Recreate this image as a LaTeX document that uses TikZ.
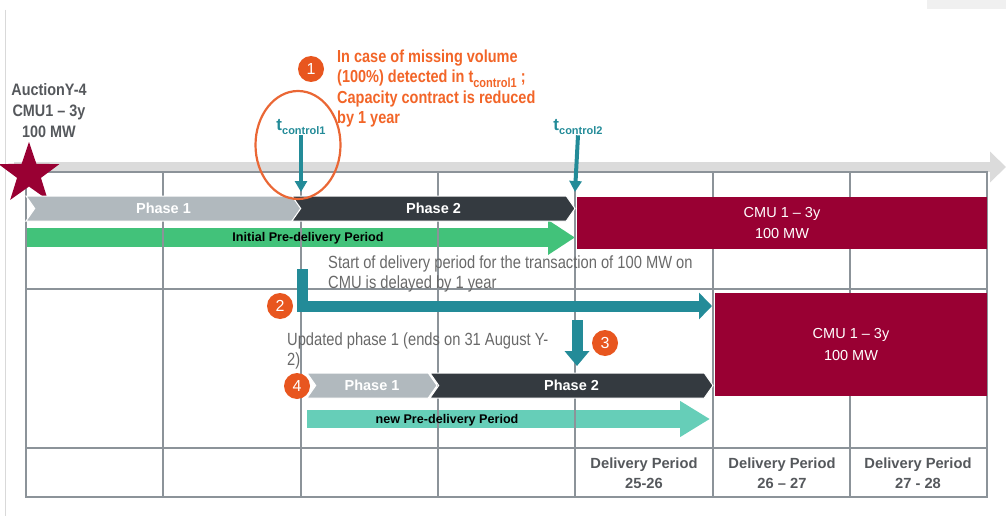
\documentclass[tikz,border=0pt]{standalone}
\usepackage{fontspec}
\setmainfont{Liberation Sans}
\usepackage{tikz}
\usetikzlibrary{positioning,calc}
\usetikzlibrary{arrows.meta,shapes}
\definecolor{maroon}{RGB}{153,0,51}
\definecolor{phdark}{RGB}{52,58,64}
\definecolor{phlight}{RGB}{177,185,190}
\definecolor{initgreen}{RGB}{66,194,122}
\definecolor{newmint}{RGB}{102,206,184}
\definecolor{tealc}{RGB}{35,139,152}
\definecolor{numorange}{RGB}{232,86,31}
\definecolor{txtorange}{RGB}{242,101,40}
\definecolor{gridgray}{RGB}{140,147,153}
\definecolor{notegray}{RGB}{105,105,105}
\definecolor{labgray}{RGB}{85,88,92}
\tikzstyle{gridline} = [draw=gridgray,line width=1.2pt]
\tikzstyle{timeline} = [draw=black!14,line width=10pt,-{Triangle[width=30pt,length=16pt]}]
\tikzstyle{phase} = [signal,signal to=east,signal from=west,signal pointer angle=110,minimum height=25,inner sep=0,draw=white,line width=1pt,text=white,font=\bfseries\fontsize{14.5}{17}\selectfont]
\tikzstyle{cmu} = [rectangle,fill=maroon,text=white,align=center,inner sep=0,outer sep=0,anchor=north west,font=\fontsize{14.5}{21.5}\selectfont]
\tikzstyle{num} = [circle,fill=numorange,text=white,minimum size=26,inner sep=0,font=\fontsize{16}{16}\selectfont]
\tikzstyle{note} = [align=left,anchor=north west,inner sep=0,yscale=1.2,text=notegray,font=\fontsize{14.7}{17}\selectfont]
\tikzstyle{barlabel} = [inner sep=0,text=black,font=\bfseries\fontsize{12.6}{14}\selectfont]
\tikzstyle{period} = [align=center,inner sep=0,text=labgray,font=\bfseries\fontsize{14.7}{20}\selectfont]
\tikzstyle{tctrl} = [inner sep=0,anchor=base,text=tealc,font=\bfseries\fontsize{17}{20}\selectfont]
\tikzstyle{ctrlarrow} = [draw=tealc,line width=4pt,-{Triangle[width=12pt,length=11pt]}]
\tikzstyle{delay} = [draw=tealc,line width=11pt,line join=miter,-{Triangle[width=26pt,length=13pt]}]
\newcommand{\ctrlsub}[1]{\raisebox{-4pt}{\fontsize{11}{12}\selectfont #1}}

\begin{document}
\begin{tikzpicture}[x=1pt,y=-1pt]
    \useasboundingbox (0,0) rectangle (1006,516);
    % leftovers of the screenshot
    \fill[black!6] (927,0) rectangle (1006,9);
    \draw[black!15,line width=0.8pt] (5,10) -- (5,516);
    % pre-delivery bars, under the table lines
    \coordinate (g0) at (26,237.5);
    \coordinate (g1) at (575,237.5);
    \draw[draw=initgreen,line width=19pt,-{Triangle[width=33pt,length=27pt]}] (g0) -- (g1);
    \coordinate (m0) at (307,419);
    \coordinate (m1) at (710,419);
    \draw[draw=newmint,line width=18pt,-{Triangle[width=34pt,length=30pt]}] (m0) -- (m1);
    % time line and table
    \coordinate (tl0) at (14,167);
    \coordinate (tl1) at (1006,167);
    \draw[timeline] (tl0) -- (tl1);
    \draw[gridline] (26,172) rectangle (987,497);
    \foreach \x in {163,301,438,575,713,850} \draw[gridline] (\x,172) -- (\x,497);
    \foreach \y in {289,448} \draw[gridline] (26,\y) -- (987,\y);
    \node[star,star points=5,star point ratio=2.55,minimum size=64,inner sep=0,fill=maroon] (star) at (29,174) {};
    \node[align=center,anchor=north,inner sep=0,yscale=1.15,text=labgray,font=\bfseries\fontsize{14.4}{18.3}\selectfont] (auct) at (49,83) {AuctionY-4\\CMU1 – 3y\\100 MW};

    % initial schedule
    \node[phase,fill=phlight,minimum width=275] (p1) at (163.5,208.5) {Phase 1};
    \node[phase,fill=phdark,minimum width=283] (p2) at (433.5,208.5) {Phase 2};
    \node[barlabel] (ipd) at (308,238) {Initial Pre-delivery Period};
    \node[cmu,minimum width=410,minimum height=52] (cmu1) at (577,197) {CMU 1 – 3y\\100 MW};

    % control times
    \node[tctrl] (tc1) at (301,131) {t\ctrlsub{control1}};
    \node[tctrl] (tc2) at (578,131) {t\ctrlsub{control2}};
    \coordinate (c1) at (301,192);
    \coordinate (c2) at (575,192);
    \draw[ctrlarrow] (tc1.south) -- (c1);
    \draw[ctrlarrow] (tc2.south) -- (c2);
    \node[ellipse,draw=numorange!90,line width=2.2pt,minimum width=85,minimum height=108,inner sep=0] (ring) at (298,145) {};
    \node[num] (n1) at (311,69) {1};
    \node[align=left,anchor=north west,inner sep=0,yscale=1.2,text=txtorange,font=\bfseries\fontsize{14.5}{17.1}\selectfont] (miss) at (337,49.5)
        {In case of missing volume\\(100\%) detected in t\ctrlsub{control1} ;\\Capacity contract is reduced\\by 1 year};

    % delayed schedule
    \node[note] (dtxt) at (328,255) {Start of delivery period for the transaction of 100 MW on\\CMU is delayed by 1 year};
    \coordinate (d0) at (302.5,269);
    \coordinate (d1) at (712,306);
    \draw[delay] (d0) |- (d1);
    \node[num] (n2) at (280,306) {2};
    \node[cmu,minimum width=272,minimum height=103] (cmu2) at (715,293) {CMU 1 – 3y\\100 MW};
    \coordinate (e0) at (577,320);
    \coordinate (e1) at (577,366);
    \draw[delay,-{Triangle[width=24pt,length=15pt]}] (e0) -- (e1);
    \node[num] (n3) at (605,343) {3};
    \node[note] (utxt) at (287,332) {Updated phase 1 (ends on 31 August Y-\\2)};
    \node[phase,fill=phlight,minimum width=130] (p3) at (372,385.5) {Phase 1};
    \node[phase,fill=phdark,minimum width=283] (p4) at (571.5,385.5) {Phase 2};
    \node[num] (n4) at (297,386) {4};
    \node[barlabel] (npd) at (447,420) {new Pre-delivery Period};

    % delivery periods
    \foreach \x/\t [count=\i] in {644/25-26,782/26 – 27,918/27 - 28}
        \node[period] (dp\i) at (\x,473) {Delivery Period\\\t};
\end{tikzpicture}
\end{document}
